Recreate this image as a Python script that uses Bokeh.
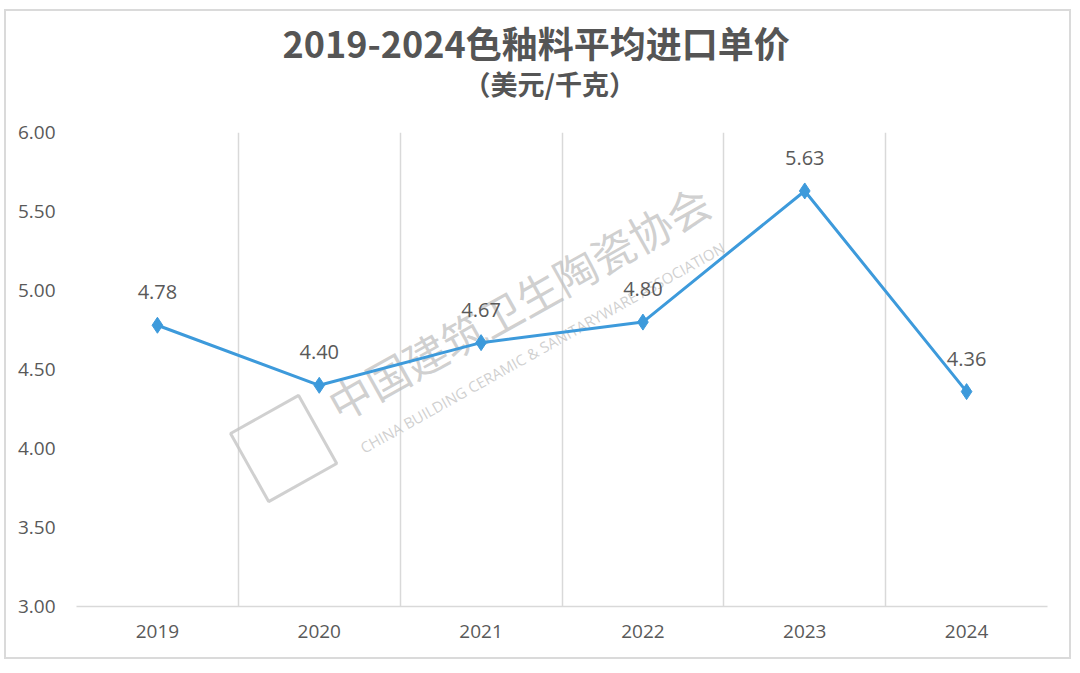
from bokeh.plotting import figure
from bokeh.models import ColumnDataSource, FixedTicker, Title, Range1d, PrintfTickFormatter
from bokeh.core.properties import value
from bokeh.embed import file_html
from bokeh.resources import INLINE

title_text = "2019-2024色釉料平均进口单价"
subtitle_text = "（美元/千克）"
years = ["2019", "2020", "2021", "2022", "2023", "2024"]
prices = [4.78, 4.40, 4.67, 4.80, 5.63, 4.36]
y_ticks = [3.0, 3.5, 4.0, 4.5, 5.0, 5.5, 6.0]

idx = list(range(len(years)))
src = ColumnDataSource(dict(x=idx, y=prices, lbl=[f"{v:.2f}" for v in prices]))

p = figure(frame_width=971, frame_height=474,
           min_border_left=70, min_border_right=22, min_border_top=121, min_border_bottom=51,
           x_range=Range1d(-0.5, len(years) - 0.5), y_range=Range1d(3.0, 6.0),
           output_backend="svg", toolbar_location=None, title=None)
p.styles = {"border": "2px solid #dadada", "margin-left": "4px", "margin-top": "9px"}
p.outline_line_color = None
p.background_fill_color = "white"
p.border_fill_color = "white"

# titles (spacer first, then subtitle, then main title, stacked upward)
p.add_layout(Title(text=" ", text_font_size="1px", standoff=27), "above")
p.add_layout(Title(text=subtitle_text, align="left", offset=387, text_font="Noto Sans CJK SC",
                   text_font_size="27px", text_font_style="bold", text_color="#555555",
                   standoff=0), "above")
p.add_layout(Title(text=title_text, align="left", offset=206,
                   text_font="Noto Sans CJK SC",
                   text_font_size="36px", text_font_style="bold", text_color="#555555",
                   standoff=-12), "above")

# axes
p.xaxis.ticker = FixedTicker(ticks=idx)
p.xaxis.major_label_overrides = {i: y for i, y in zip(idx, years)}
p.xaxis.axis_line_color = "#d9d9d9"
p.xaxis.axis_line_width = 1.5
p.xaxis.major_tick_line_color = None
p.xaxis.minor_tick_line_color = None
p.xaxis.major_label_text_font = "Open Sans"
p.xaxis.major_label_text_font_size = "19px"
p.xaxis.major_label_text_color = "#595959"
p.xaxis.major_label_standoff = 12

p.yaxis.ticker = FixedTicker(ticks=y_ticks)
p.yaxis.formatter = PrintfTickFormatter(format="%.2f")
p.yaxis.axis_line_color = None
p.yaxis.major_tick_line_color = None
p.yaxis.minor_tick_line_color = None
p.yaxis.major_label_text_font = "Open Sans"
p.yaxis.major_label_text_font_size = "19px"
p.yaxis.major_label_text_color = "#595959"
p.yaxis.major_label_standoff = 15

p.ygrid.grid_line_color = None
p.xgrid.ticker = FixedTicker(ticks=[i - 0.5 for i in range(len(years) + 1)])
p.xgrid.grid_line_color = "#d9d9d9"
p.xgrid.grid_line_width = 1.5

# watermark
p.text(x=[2.23], y=[4.93], text=["中国建筑卫生陶瓷协会"], angle=0.51, angle_units="rad",
       text_font=value("Noto Sans CJK SC"), text_font_size="43px",
       text_color="#bbbbbb", text_alpha=0.7, text_align="center", text_baseline="middle")
p.text(x=[2.38], y=[4.64], text=["CHINA BUILDING CERAMIC & SANITARYWARE ASSOCIATION"],
       angle=0.51, angle_units="rad", text_font=value("Open Sans"), text_font_size="15px",
       text_color="#bbbbbb", text_alpha=0.7, text_align="center", text_baseline="middle")
p.rect(x=[0.78], y=[4.0], width=78, height=78, width_units="screen", height_units="screen",
       angle=0.51, fill_alpha=0, line_color="#c4c4c4", line_width=3, line_alpha=0.8)

# line
p.line("x", "y", source=src, line_color="#3D9ADB", line_width=3)
p.scatter("x", "y", source=src, marker="diamond", size=16, fill_color="#3D9ADB",
          line_color="#3D9ADB")
p.text("x", "y", text="lbl", source=src, y_offset=-33, text_align="center",
       text_baseline="middle", text_font=value("Open Sans"), text_font_size="20px",
       text_color="#595959")

open("out.html", "w").write(file_html(p, INLINE))
